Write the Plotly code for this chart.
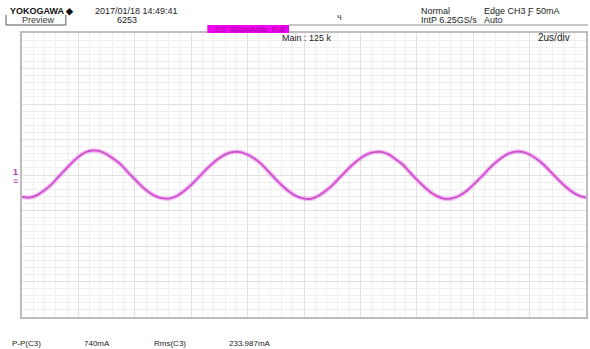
import numpy as np
import plotly.graph_objects as go

# Acquisition: CH3 current probe, 2 us/div over 10 divisions, 500 mA/div over 8 divisions
time_step_us = 0.25
current_ma = [
    -308, -318, -290, -228, -150, -45, 60, 165, 255, 320, 345, 335, 292, 225, 150, 42, -58, -160, -242, -300, -328,
    -330, -292, -225, -140, -38, 65, 160, 238, 298, 325, 322, 285, 228, 150, 45, -60, -158, -242, -302, -332,
    -335, -295, -230, -145, -42, 60, 155, 235, 295, 322, 325, 290, 222, 148, 40, -65, -162, -245, -305, -335,
    -330, -292, -228, -140, -40, 62, 160, 240, 300, 328, 326, 288, 226, 145, 45, -58, -155, -235, -290, -318,
]
time_us = [i * time_step_us for i in range(len(current_ma))]

header_left = ["YOKOGAWA \u25c6", "2017/01/18 14:49:41", "6253"]
trig_mode = ["Normal", "IntP 6.25GS/s"]
trig_src = ["Edge CH3 \u0191 50mA", "Auto"]
meas_names = ["P-P(C3)", "Rms(C3)"]
meas_values = ["740mA", "233.987mA"]

W, H = 590, 349
L, R, T, B = 22, 588, 33, 317
TRACE = "rgb(208,78,208)"
FONT = "Liberation Sans"


def px(x):
    return (x - L) / (R - L)


def py(y):
    return (B - y) / (B - T)


fig = go.Figure()
fig.add_trace(go.Scatter(x=time_us, y=current_ma, mode="lines",
                         line=dict(color="rgba(228,130,228,0.5)", width=4.5, shape="spline"),
                         hoverinfo="skip", showlegend=False))
fig.add_trace(go.Scatter(x=time_us, y=current_ma, mode="lines",
                         line=dict(color=TRACE, width=1.8, shape="spline"),
                         showlegend=False))

axis_common = dict(showticklabels=False, ticks="", zeroline=False,
                   showline=True, mirror=True, linecolor="#bdbdbd", linewidth=2,
                   gridcolor="#e0e0e0", gridwidth=1)
fig.update_xaxes(range=[0, 20], dtick=2, tick0=0,
                 minor=dict(dtick=0.4, showgrid=True, gridcolor="#efefef", gridwidth=1),
                 **axis_common)
fig.update_yaxes(range=[-2000, 2000], dtick=500, tick0=0,
                 minor=dict(dtick=100, showgrid=True, gridcolor="#efefef", gridwidth=1),
                 **axis_common)

ann = []


def text(x, y, s, size=9, color="#222", anchor="left", bold=False):
    ann.append(dict(x=px(x), y=py(y), xref="paper", yref="paper", text=f"<b>{s}</b>" if bold else s,
                    showarrow=False, xanchor=anchor, yanchor="middle",
                    font=dict(family=FONT, size=size, color=color)))


text(8, 11, header_left[0], size=9, bold=True, color="#111")
text(93, 11, header_left[1], size=9)
text(127, 20, header_left[2], size=9, anchor="center")
text(20, 20, "Preview", size=9, color="#333")
text(341, 17, "\u0447", size=9, color="#333", anchor="center")
text(420, 11, trig_mode[0], size=9)
text(420, 20, trig_mode[1], size=9)
text(484, 11, trig_src[0], size=9)
text(484, 20, trig_src[1], size=9)
text(214, 29, "C3&nbsp;&nbsp;500mA/div&nbsp;&nbsp;Full", size=8, color="#a000a0")
text(281, 38, "Main : 125 k", size=9)
text(538, 38, "2us/div", size=10)
text(10, 343, meas_names[0], size=8)
text(82, 343, meas_values[0], size=8)
text(152, 343, meas_names[1], size=8)
text(228, 343, meas_values[1], size=8)
text(15, 172, "<b>1</b>", size=9, color="#b040b0", anchor="center")
text(15, 181, "\u2261", size=9, color="#b040b0", anchor="center")

shapes = [
    # channel scale bar
    dict(type="rect", xref="paper", yref="paper", x0=px(208), x1=px(290), y0=py(33), y1=py(25),
         fillcolor="#f000f0", line=dict(width=0), layer="above"),
    # header separator
    dict(type="line", xref="paper", yref="paper", x0=px(290), x1=px(590), y0=py(25), y1=py(25),
         line=dict(color="#b4b4b4", width=1.5)),
    # Preview tab bracket
    dict(type="path", xref="paper", yref="paper",
         path=f"M {px(6)},{py(15)} L {px(6)},{py(25)} L {px(66)},{py(25)} L {px(66)},{py(15)}",
         line=dict(color="#555", width=1)),
]

fig.update_layout(width=W, height=H, margin=dict(l=L, r=W - R, t=T, b=H - B),
                  paper_bgcolor="white", plot_bgcolor="white",
                  annotations=ann, shapes=shapes)

fig.write_html("out.html")
